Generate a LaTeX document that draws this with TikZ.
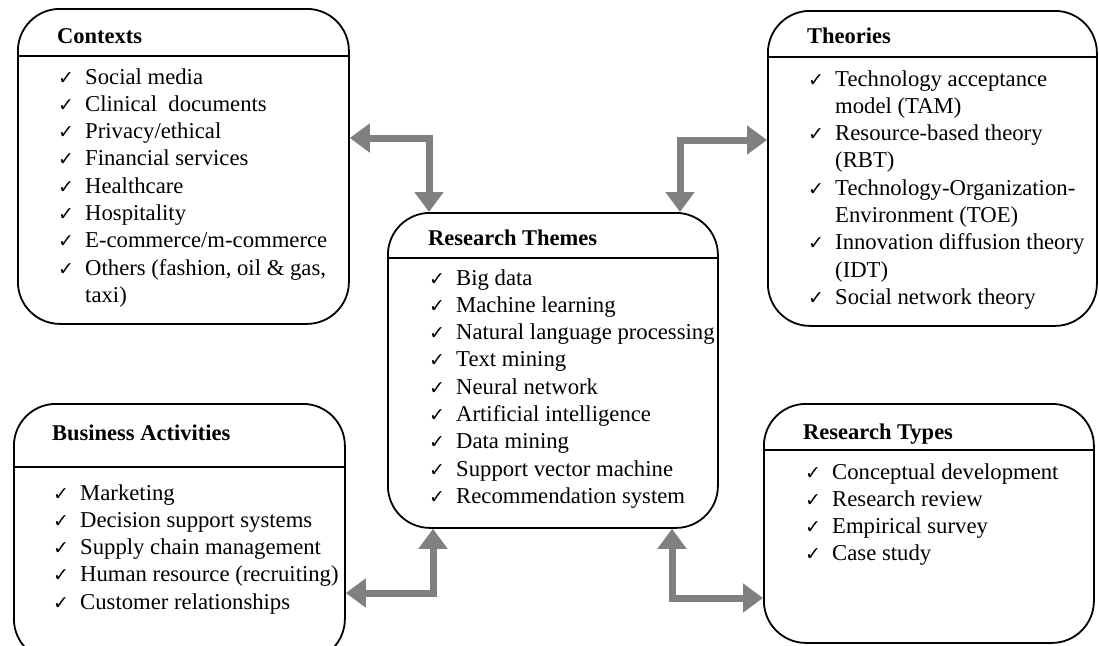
\documentclass[tikz,border=0pt]{standalone}
\usepackage{fontspec}
\setmainfont{Liberation Serif}
\newfontfamily\dvfont{DejaVu Sans}
\usetikzlibrary{arrows.meta}
\definecolor{arrgray}{RGB}{128,128,128}
\newcommand{\ck}{\makebox[27pt][l]{\fontsize{19}{19}\selectfont\dvfont ✓}}
\newcommand{\ind}{\hspace*{27pt}}
\tikzset{
  box/.style={draw=black, line width=1.8pt, rounded corners=42pt, anchor=north west, inner sep=0pt},
  hdr/.style={line width=1.8pt},
  ttl/.style={anchor=base west, inner sep=0pt, font=\fontsize{22.5}{27}\selectfont\bfseries},
  lst/.style={anchor=base west, inner sep=0pt, font=\fontsize{22.7}{27.3}\selectfont},
  arr/.style={draw=arrgray, line width=7pt, line join=miter,
    {Triangle[width=28pt,length=20pt]}-{Triangle[width=28pt,length=20pt]}}
}
\begin{document}
\begin{tikzpicture}[x=1pt,y=-1pt]
\useasboundingbox (0,0) rectangle (1099,645);
% boxes
\node[box, minimum width=331pt, minimum height=315pt] (ctx) at (17,8) {};
\node[box, minimum width=329pt, minimum height=315pt] (theo) at (767,10) {};
\node[box, minimum width=330pt, minimum height=315pt] (themes) at (387,212) {};
\node[box, minimum width=331pt, minimum height=257pt] (bus) at (13,403) {};
\node[box, minimum width=330pt, minimum height=239pt] (types) at (763,403) {};
% header lines
\draw[hdr] (ctx.west |- 0,56) -- (ctx.east |- 0,56);
\draw[hdr] (theo.west |- 0,57) -- (theo.east |- 0,57);
\draw[hdr] (themes.west |- 0,258) -- (themes.east |- 0,258);
\draw[hdr] (bus.west |- 0,467) -- (bus.east |- 0,467);
\draw[hdr] (types.west |- 0,450) -- (types.east |- 0,450);
% titles
\node[ttl] (ctxt) at (57,43) {Contexts};
\node[ttl] (theot) at (807,43) {Theories};
\node[ttl] (themest) at (428,245) {Research Themes};
\node[ttl] (bust) at (52,440) {Business Activities};
\node[ttl] (typest) at (803,439) {Research Types};
% lists
\node[lst] (ctxl) at (58,84) {\begin{tabular}[t]{@{}l@{}}
\ck Social media\\
\ck Clinical~ documents\\
\ck Privacy/ethical\\
\ck Financial services\\
\ck Healthcare\\
\ck Hospitality\\
\ck E-commerce/m-commerce\\
\ck Others (fashion, oil \& gas,\\
\ind taxi)
\end{tabular}};
\node[lst] (theol) at (808,86) {\begin{tabular}[t]{@{}l@{}}
\ck Technology acceptance\\
\ind model (TAM)\\
\ck Resource-based theory\\
\ind (RBT)\\
\ck Technology-Organization-\\
\ind Environment (TOE)\\
\ck Innovation diffusion theory\\
\ind (IDT)\\
\ck Social network theory
\end{tabular}};
\node[lst] (themesl) at (429,285) {\begin{tabular}[t]{@{}l@{}}
\ck Big data\\
\ck Machine learning\\
\ck Natural language processing\\
\ck Text mining\\
\ck Neural network\\
\ck Artificial intelligence\\
\ck Data mining\\
\ck Support vector machine\\
\ck Recommendation system
\end{tabular}};
\node[lst] (busl) at (53,500) {\begin{tabular}[t]{@{}l@{}}
\ck Marketing\\
\ck Decision support systems\\
\ck Supply chain management\\
\ck Human resource (recruiting)\\
\ck Customer relationships
\end{tabular}};
\node[lst] (typesl) at (805,479) {\begin{tabular}[t]{@{}l@{}}
\ck Conceptual development\\
\ck Research review\\
\ck Empirical survey\\
\ck Case study
\end{tabular}};
% connectors
\coordinate (k1) at (429,138);
\coordinate (k2) at (680,140);
\coordinate (k3) at (433,593);
\coordinate (k4) at (672,598);
\draw[arr] (ctx.east |- k1) -| (k1 |- themes.north);
\draw[arr] (k2 |- themes.north) |- (theo.west |- k2);
\draw[arr] (k3 |- themes.south) |- (bus.east |- k3);
\draw[arr] (k4 |- themes.south) |- (types.west |- k4);
\end{tikzpicture}
\end{document}
